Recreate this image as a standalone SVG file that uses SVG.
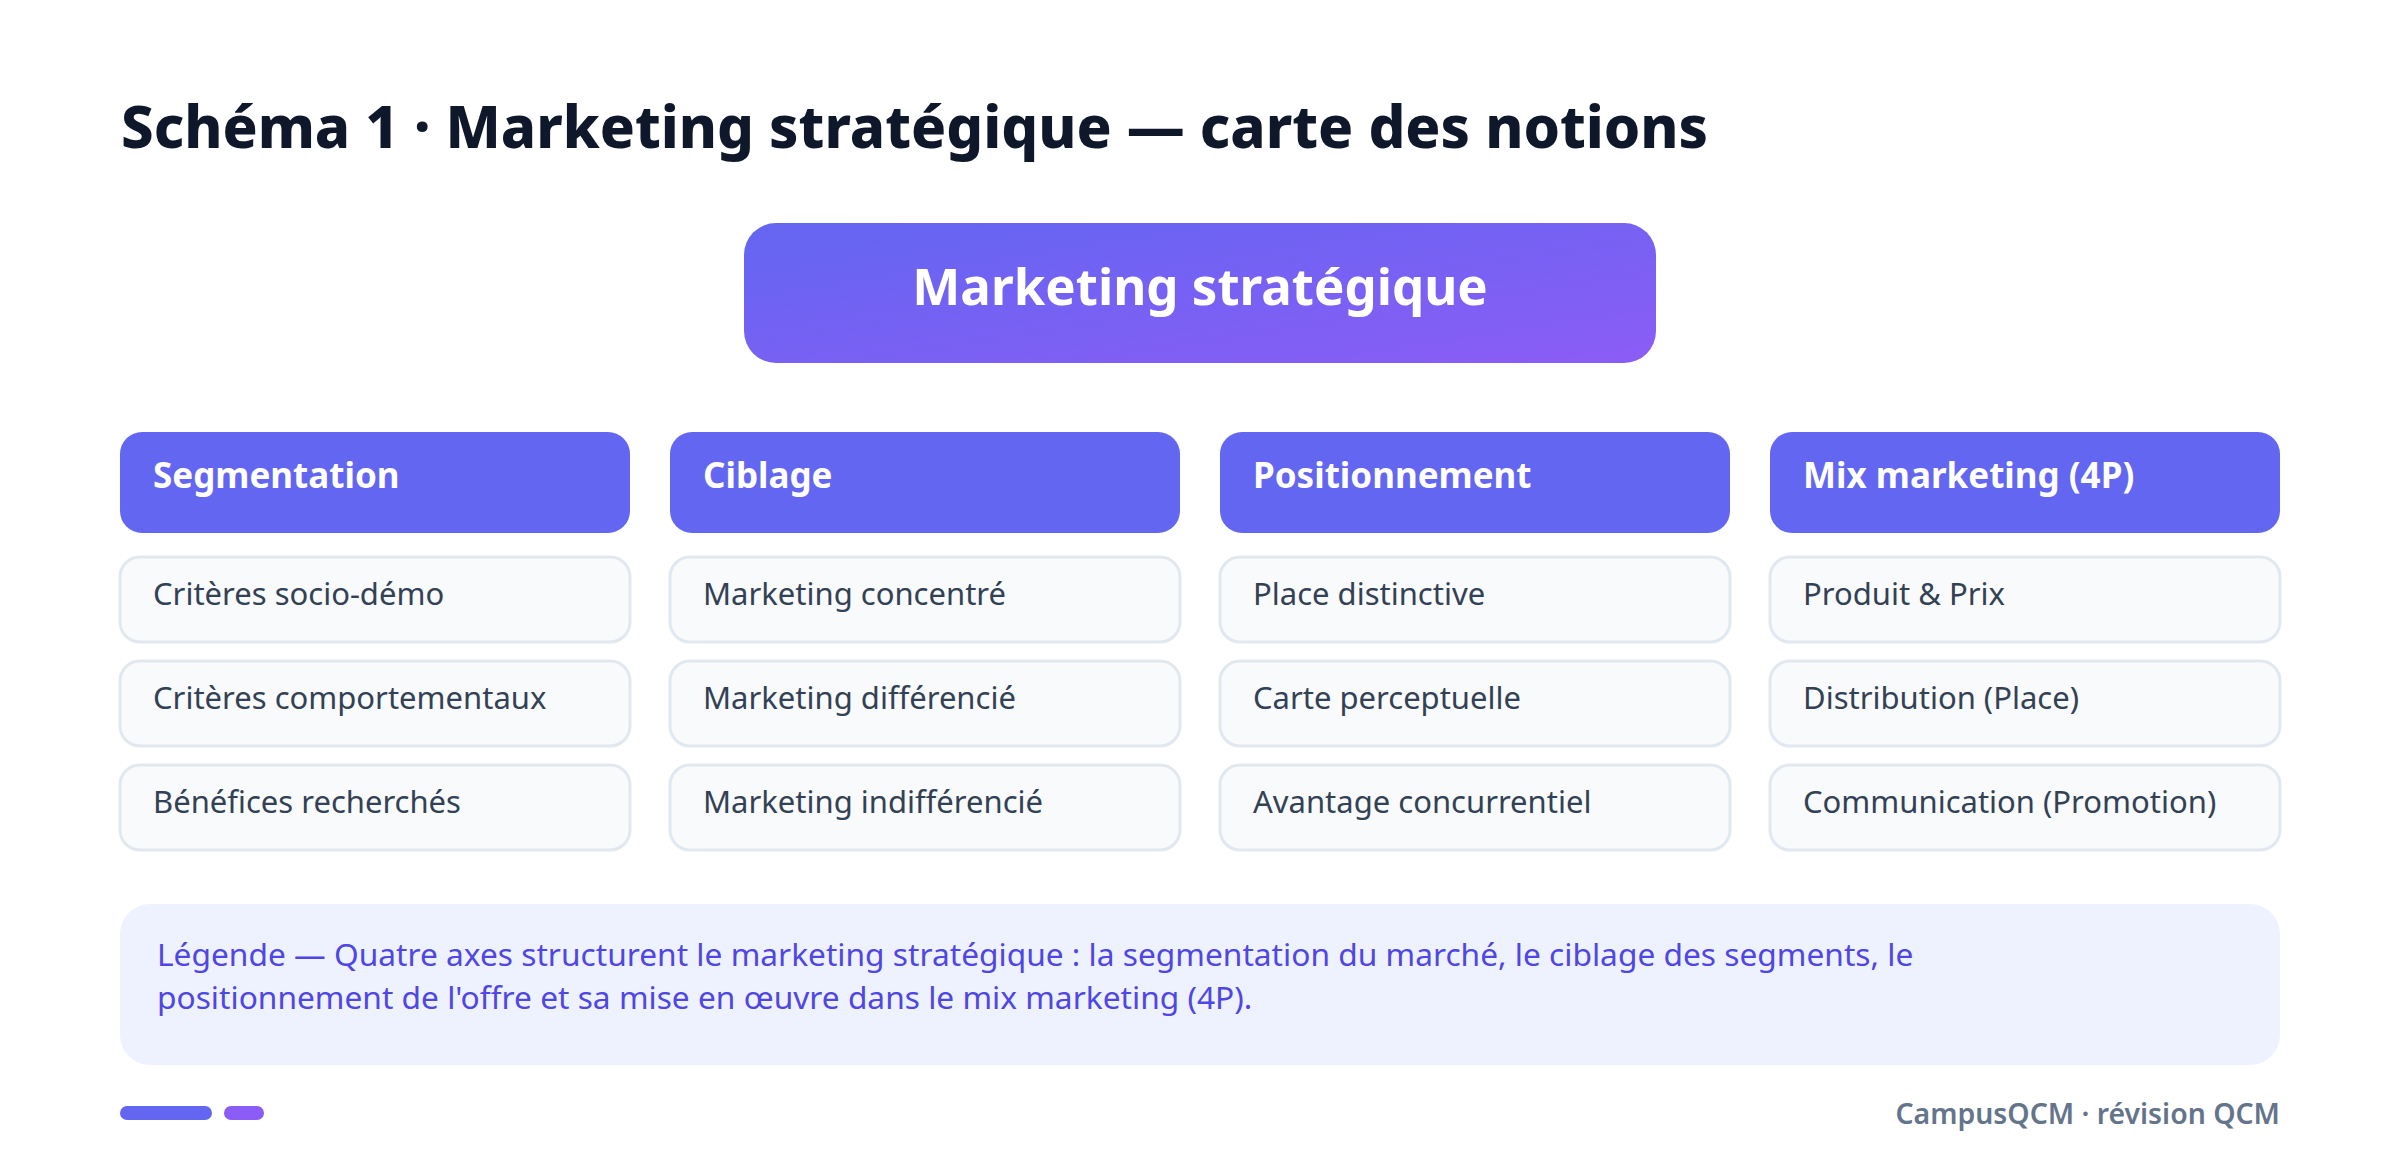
<svg xmlns="http://www.w3.org/2000/svg" width="2400" height="1174" viewBox="0 0 2400 1174">
<defs>
<linearGradient id="gMain" x1="0" y1="0" x2="1" y2="1">
<stop offset="0" stop-color="#6366f1"/>
<stop offset="1" stop-color="#8b5cf6"/>
</linearGradient>
<style>
.title{font-family:"Noto Sans","Open Sans",sans-serif;font-weight:800;font-size:58px;fill:#0f172a}
.main{font-family:"Noto Sans","Open Sans",sans-serif;font-weight:700;font-size:51px;fill:#ffffff}
.hdr rect{fill:#6366f1}
.hdr text{font-family:"Noto Sans","Open Sans",sans-serif;font-weight:700;font-size:35px;fill:#ffffff}
.item rect{fill:#f8fafc;stroke:#e2e8f0;stroke-width:3}
.item text{font-family:"Noto Sans","Open Sans",sans-serif;font-size:31px;fill:#334155}
.leg{font-family:"Noto Sans","Open Sans",sans-serif;font-size:31.7px;fill:#4f46e5}
.foot{font-family:"Noto Sans","Open Sans",sans-serif;font-weight:600;font-size:28.4px;fill:#64748b}
</style>
</defs>
<rect width="2400" height="1174" fill="#ffffff"/>
<text class="title" x="121" y="148">Schéma 1 · Marketing stratégique — carte des notions</text>

<g id="root">
<rect x="744" y="223" width="912" height="140" rx="32" fill="url(#gMain)"/>
<text class="main" x="1200" y="305" text-anchor="middle">Marketing stratégique</text>
</g>

<g id="connectors"></g>

<g id="col-segmentation">
<g class="hdr"><rect x="120" y="432" width="510" height="101" rx="22"/><text x="153" y="488">Segmentation</text></g>
<g class="item"><rect x="120" y="557" width="510" height="85" rx="20"/><text x="153" y="605">Critères socio-démo</text></g>
<g class="item"><rect x="120" y="661" width="510" height="85" rx="20"/><text x="153" y="709">Critères comportementaux</text></g>
<g class="item"><rect x="120" y="765" width="510" height="85" rx="20"/><text x="153" y="813">Bénéfices recherchés</text></g>
</g>

<g id="col-ciblage">
<g class="hdr"><rect x="670" y="432" width="510" height="101" rx="22"/><text x="703" y="488">Ciblage</text></g>
<g class="item"><rect x="670" y="557" width="510" height="85" rx="20"/><text x="703" y="605">Marketing concentré</text></g>
<g class="item"><rect x="670" y="661" width="510" height="85" rx="20"/><text x="703" y="709">Marketing différencié</text></g>
<g class="item"><rect x="670" y="765" width="510" height="85" rx="20"/><text x="703" y="813">Marketing indifférencié</text></g>
</g>

<g id="col-positionnement">
<g class="hdr"><rect x="1220" y="432" width="510" height="101" rx="22"/><text x="1253" y="488">Positionnement</text></g>
<g class="item"><rect x="1220" y="557" width="510" height="85" rx="20"/><text x="1253" y="605">Place distinctive</text></g>
<g class="item"><rect x="1220" y="661" width="510" height="85" rx="20"/><text x="1253" y="709">Carte perceptuelle</text></g>
<g class="item"><rect x="1220" y="765" width="510" height="85" rx="20"/><text x="1253" y="813">Avantage concurrentiel</text></g>
</g>

<g id="col-mix">
<g class="hdr"><rect x="1770" y="432" width="510" height="101" rx="22"/><text x="1803" y="488">Mix marketing (4P)</text></g>
<g class="item"><rect x="1770" y="557" width="510" height="85" rx="20"/><text x="1803" y="605">Produit &amp; Prix</text></g>
<g class="item"><rect x="1770" y="661" width="510" height="85" rx="20"/><text x="1803" y="709">Distribution (Place)</text></g>
<g class="item"><rect x="1770" y="765" width="510" height="85" rx="20"/><text x="1803" y="813">Communication (Promotion)</text></g>
</g>

<g id="legend">
<rect x="120" y="904" width="2160" height="161" rx="30" fill="#eef2ff"/>
<text class="leg" x="157" y="966">Légende — Quatre axes structurent le marketing stratégique : la segmentation du marché, le ciblage des segments, le</text>
<text class="leg" x="157" y="1009">positionnement de l'offre et sa mise en œuvre dans le mix marketing (4P).</text>
</g>

<g id="footer">
<rect x="120" y="1106" width="92" height="14" rx="7" fill="#6366f1"/>
<rect x="224" y="1106" width="40" height="14" rx="7" fill="#8b5cf6"/>
<text class="foot" x="2280" y="1124" text-anchor="end">CampusQCM · révision QCM</text>
</g>
</svg>
